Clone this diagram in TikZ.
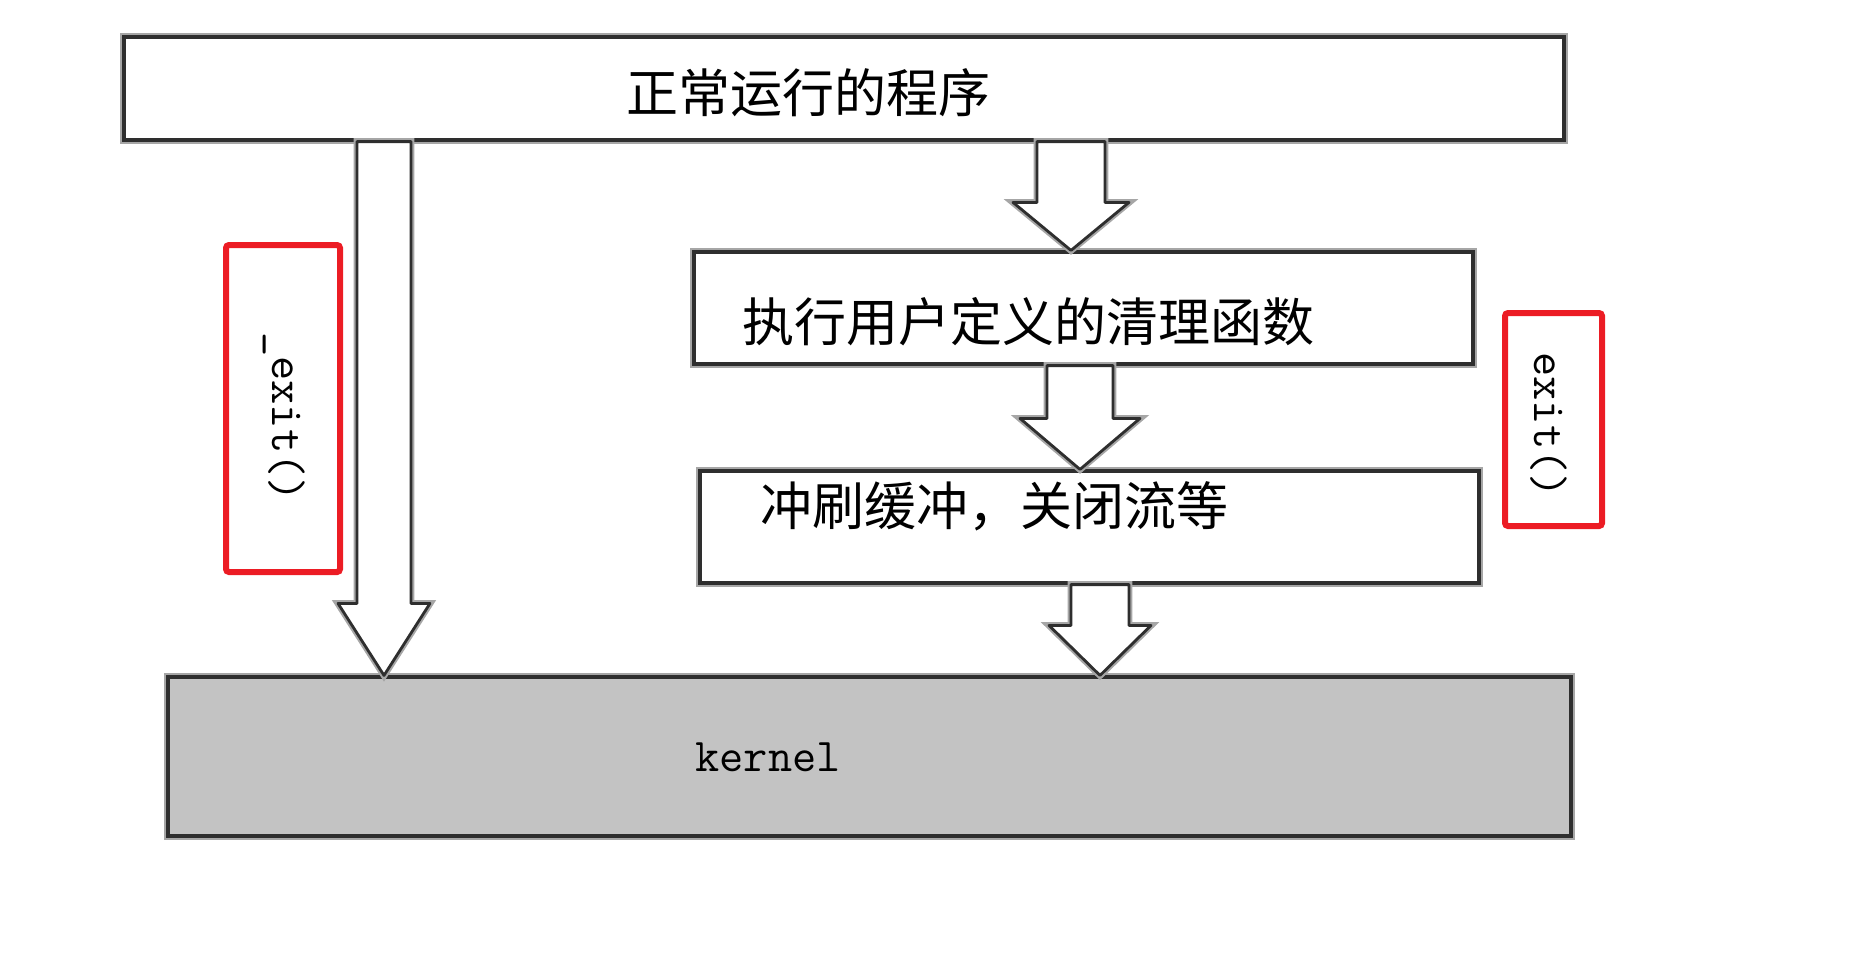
\documentclass[tikz,border=0pt]{standalone}
\usepackage{fontspec}
\newfontfamily\cjk{Noto Sans CJK SC}
\usetikzlibrary{calc}
\definecolor{kernelgray}{HTML}{C3C3C3}
\definecolor{exitred}{HTML}{EC1C24}
\tikzset{
  sketchbox/.style={draw=black!82, line width=1.6pt, fill=white,
    preaction={draw=black!35, line width=3.8pt}, inner sep=0pt},
  redbox/.style={draw=exitred, line width=3pt, rounded corners=1.5pt, inner sep=0pt},
  cjktext/.style={font=\cjk\fontsize{26pt}{30pt}\selectfont, inner sep=0pt},
  monotext/.style={font=\ttfamily\fontsize{23.5pt}{26pt}\selectfont, inner sep=0pt},
  blockarrow/.style={draw=black!82, line width=1.4pt, fill=white, line join=round,
    preaction={draw=black!35, line width=3.4pt}}
}
\newcommand\blkarrow[5]{%
  \draw[blockarrow] ($(#1)+(-#3,0)$) -- ($(#2)+(-#3,-#5)$) -- ($(#2)+(-#4,-#5)$) -- (#2)
    -- ($(#2)+(#4,-#5)$) -- ($(#2)+(#3,-#5)$) -- ($(#1)+(#3,0)$) -- cycle;}
\begin{document}
\begin{tikzpicture}[x=0.5pt,y=-0.5pt]
\useasboundingbox (0,0) rectangle (1855,955);
% boxes
\node[sketchbox, minimum width=720pt, minimum height=51.5pt] (top) at (844,88.5) {};
\node[sketchbox, minimum width=389.5pt, minimum height=56pt] (clean) at (1083.5,308) {};
\node[sketchbox, minimum width=389.5pt, minimum height=56pt] (flush) at (1089.5,527) {};
\node[sketchbox, fill=kernelgray, minimum width=701.5pt, minimum height=79.5pt] (kernel) at (869.5,756.5) {};
% texts
\node[cjktext] (ttop) at (808,93) {正常运行的程序};
\node[cjktext] (tclean) at (1028,322) {执行用户定义的清理函数};
\node[cjktext] (tflush) at (994,506) {冲刷缓冲，关闭流等};
\node[monotext] (tkernel) at (768,757) {kernel};
% arrow anchor coordinates
\coordinate (xl) at (384,0);
\coordinate (x1) at (1071,0);
\coordinate (x2) at (1080,0);
\coordinate (x3) at (1100,0);
\coordinate (l0) at (top.south -| xl);
\coordinate (l1) at (kernel.north -| xl);
\coordinate (a0) at (top.south -| x1);
\coordinate (a1) at (clean.north -| x1);
\coordinate (b0) at (clean.south -| x2);
\coordinate (b1) at (flush.north -| x2);
\coordinate (c0) at (flush.south -| x3);
\coordinate (c1) at (kernel.north -| x3);
% block arrows
\blkarrow{l0}{l1}{27}{46}{72}
\blkarrow{a0}{a1}{34}{58}{48}
\blkarrow{b0}{b1}{33}{60}{51}
\blkarrow{c0}{c1}{29}{51}{50}
% red boxes with labels
\node[redbox, minimum width=57pt, minimum height=163.5pt] (rleft) at (283,408.5) {};
\node[redbox, minimum width=48.5pt, minimum height=106.5pt] (rright) at (1553.5,419.5) {};
\node[monotext, rotate=-90] (exitl) at (284,417) {\_exit()};
\node[monotext, rotate=-90] (exitr) at (1549,425) {exit()};
\end{tikzpicture}
\end{document}
